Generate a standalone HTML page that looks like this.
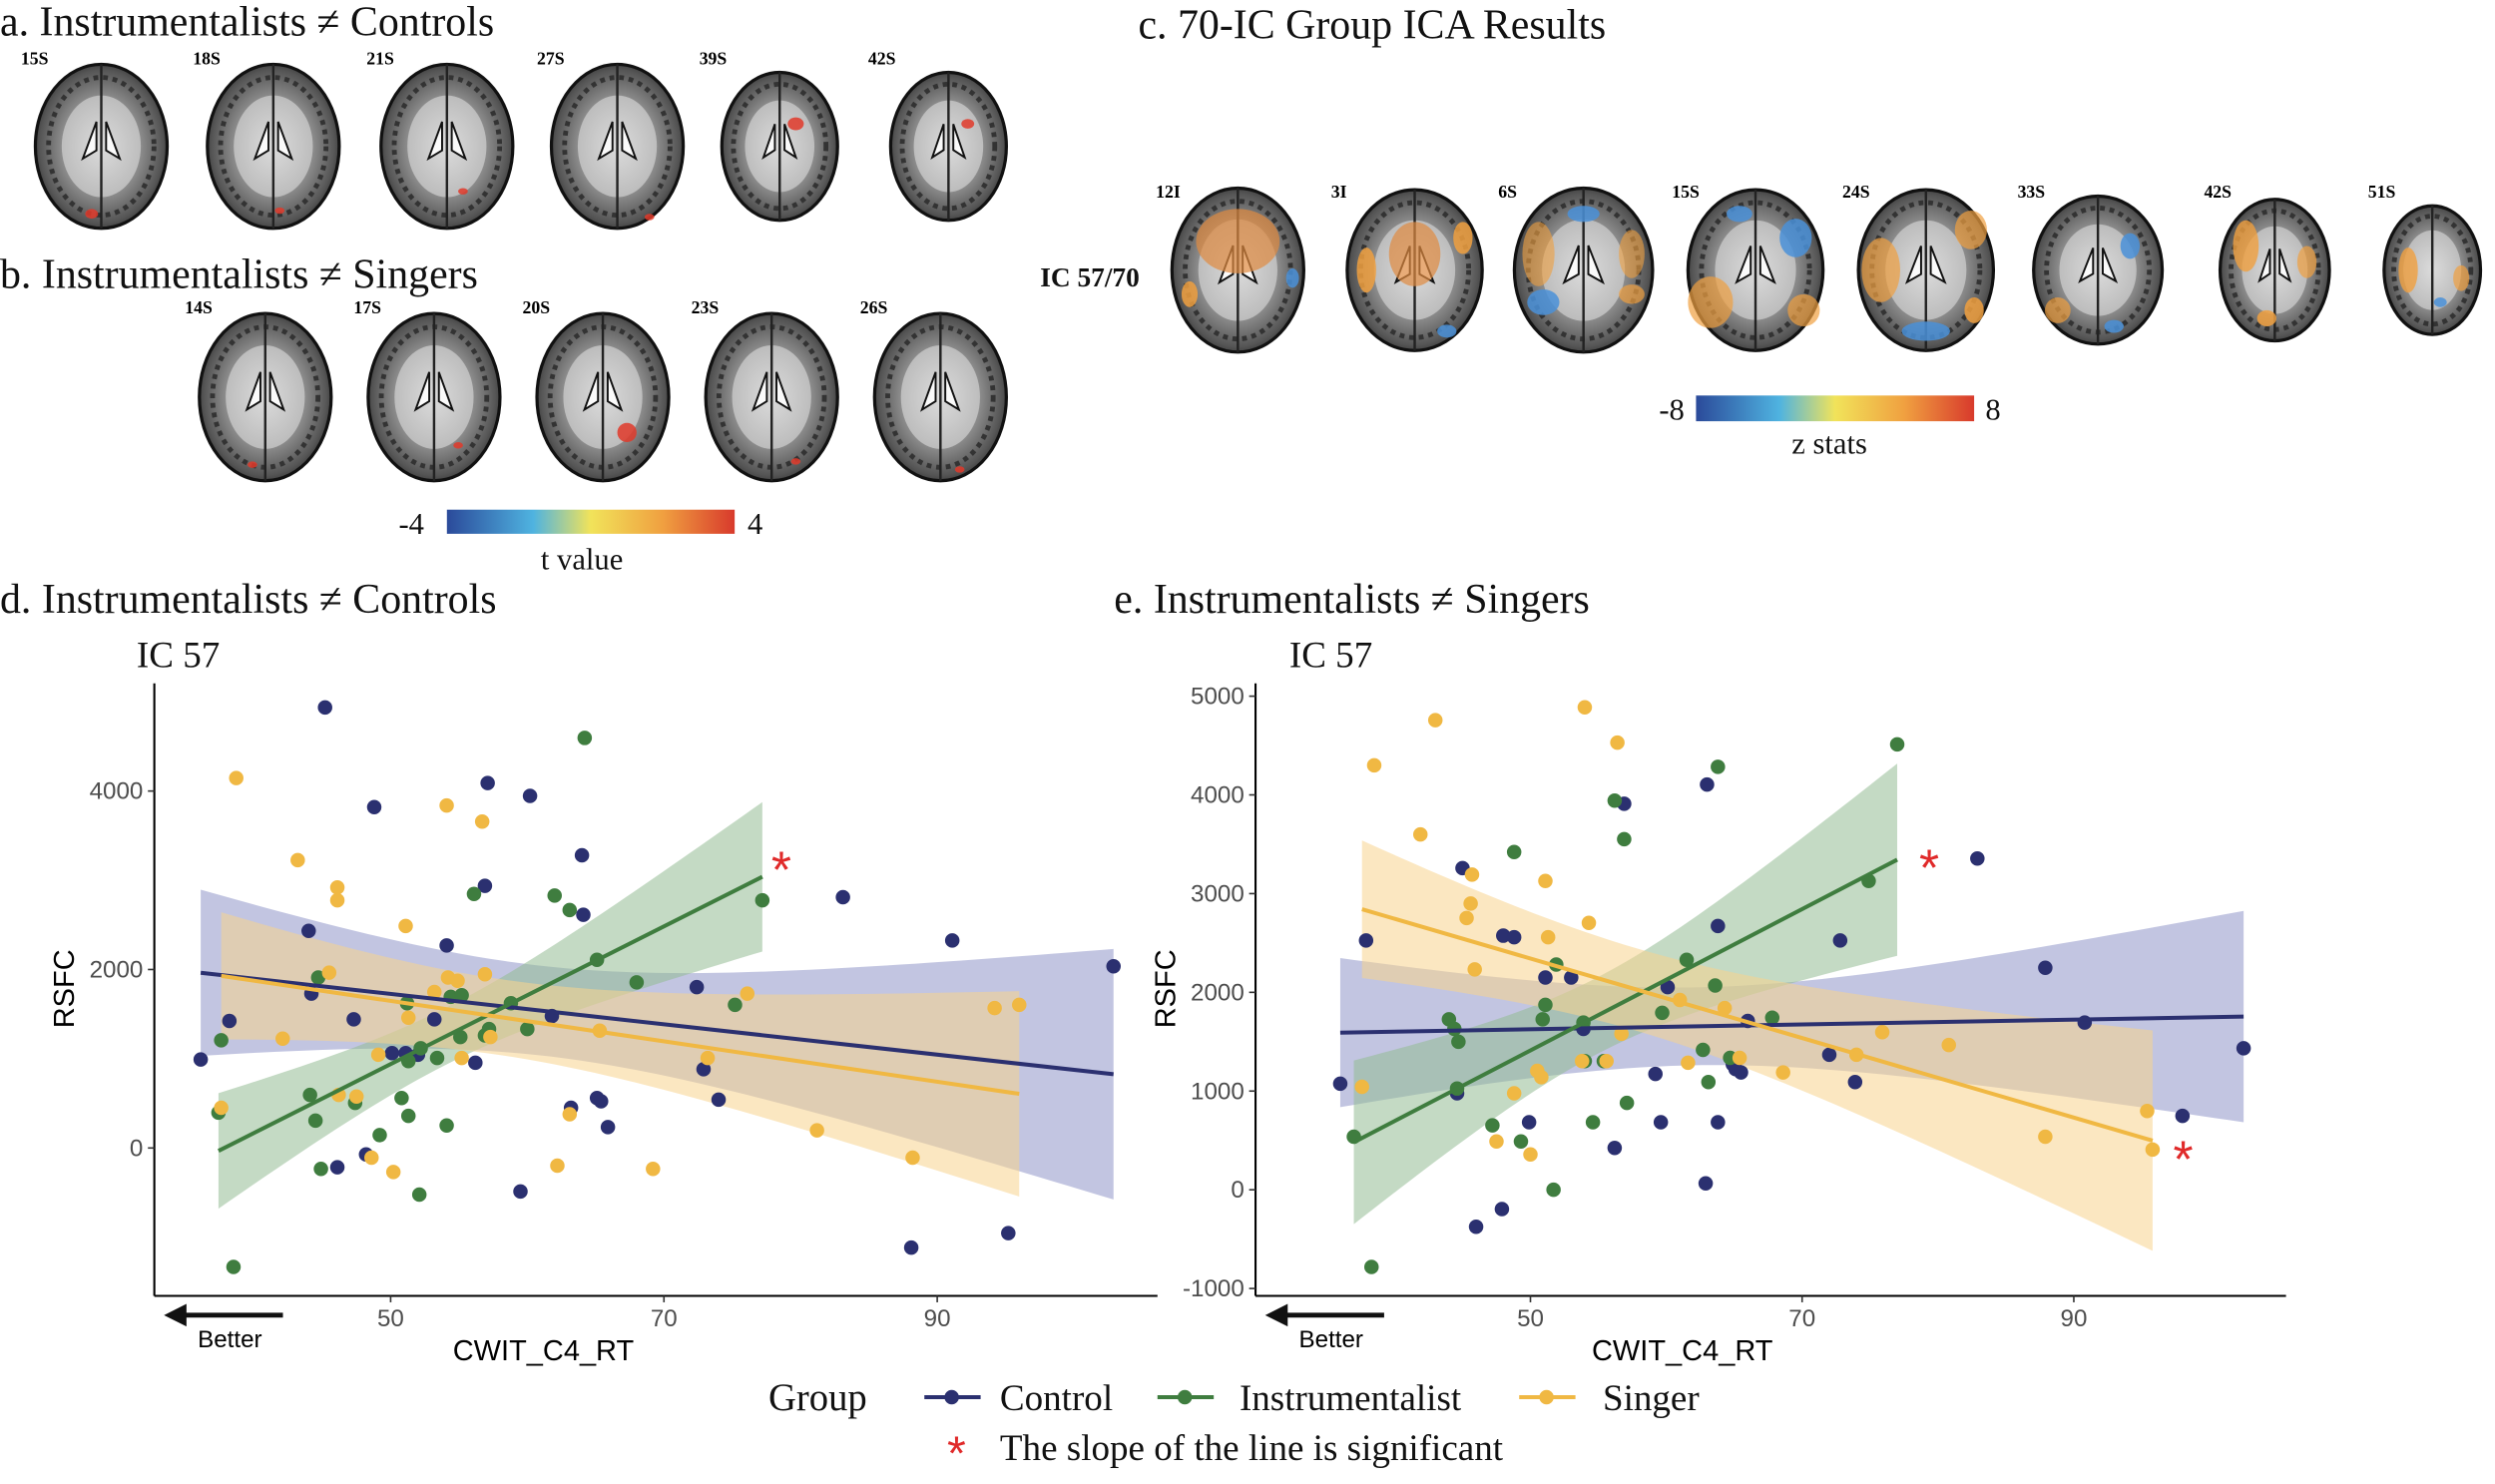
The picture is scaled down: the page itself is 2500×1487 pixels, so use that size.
<!DOCTYPE html>
<html><head><meta charset="utf-8"><style>
html,body{margin:0;padding:0;background:#fff;}
svg{display:block;}
.t{font-family:"Liberation Serif",serif;fill:#111;}
.s{font-family:"Liberation Sans",sans-serif;}
</style></head><body>
<svg id="fig" width="2500" height="1487" viewBox="0 0 1552 923" preserveAspectRatio="none" xmlns="http://www.w3.org/2000/svg">
<defs>
<radialGradient id="brainG" cx="50%" cy="50%" r="55%"><stop offset="0" stop-color="#cfcfcf"/><stop offset="0.55" stop-color="#8c8c8c"/><stop offset="0.85" stop-color="#555"/><stop offset="1" stop-color="#2a2a2a"/></radialGradient>
<linearGradient id="cbar" x1="0" x2="1" y1="0" y2="0"><stop offset="0" stop-color="#2b4a9a"/><stop offset="0.3" stop-color="#4fb3e0"/><stop offset="0.5" stop-color="#f1e35a"/><stop offset="0.75" stop-color="#f0a040"/><stop offset="1" stop-color="#d83a2c"/></linearGradient>
</defs>
<g id="titles">
<text class="t" x="0" y="22" font-size="26">a. Instrumentalists ≠ Controls</text>
<text class="t" x="0" y="179" font-size="26">b. Instrumentalists ≠ Singers</text>
<text class="t" x="708" y="24" font-size="26">c. 70-IC Group ICA Results</text>
<text class="t" x="0" y="381" font-size="26">d. Instrumentalists ≠ Controls</text>
<text class="t" x="693" y="381" font-size="26">e. Instrumentalists ≠ Singers</text>
<text class="t" x="85" y="415" font-size="23">IC 57</text>
<text class="t" x="802" y="415" font-size="23">IC 57</text>
<text class="t" x="647" y="178" font-size="17" font-weight="bold">IC 57/70</text>
</g>
<g id="brains"></g>
<g id="colorbars">
<rect x="278" y="317" width="179" height="15" fill="url(#cbar)"/>
<text class="t" x="248" y="332" font-size="19">-4</text>
<text class="t" x="465" y="332" font-size="19">4</text>
<text class="t" x="362" y="354" font-size="19" text-anchor="middle">t value</text>
<rect x="1055" y="246" width="173" height="16" fill="url(#cbar)"/>
<text class="t" x="1032" y="261" font-size="19">-8</text>
<text class="t" x="1235" y="261" font-size="19">8</text>
<text class="t" x="1138" y="282" font-size="19" text-anchor="middle">z stats</text>
</g>
<g id="plots"></g>
<g id="legend">
<text class="t" x="478" y="877" font-size="24">Group</text>
<line x1="575" y1="869" x2="610" y2="869" stroke="#2b3070" stroke-width="2.5"/><circle cx="592" cy="869" r="4.5" fill="#2b3070"/>
<text class="t" x="622" y="877" font-size="23">Control</text>
<line x1="720" y1="869" x2="755" y2="869" stroke="#3f7d3f" stroke-width="2.5"/><circle cx="737" cy="869" r="4.5" fill="#3f7d3f"/>
<text class="t" x="771" y="877" font-size="23">Instrumentalist</text>
<line x1="945" y1="869" x2="980" y2="869" stroke="#f0b843" stroke-width="2.5"/><circle cx="962" cy="869" r="4.5" fill="#f0b843"/>
<text class="t" x="997" y="877" font-size="23">Singer</text>
<text class="s" x="595" y="914" font-size="30" fill="#e02a2a" text-anchor="middle">*</text>
<text class="t" x="622" y="908" font-size="23">The slope of the line is significant</text>
</g>
</svg>
<script>
// ---- data ----
const dCtrlX=[36.1,38.2,44.0,44.2,45.2,46.1,47.3,48.2,48.8,50.1,51.1,52.0,53.2,54.1,56.2,56.9,57.1,60.2,59.5,61.8,63.2,64.0,64.1,65.1,65.4,65.9,72.4,72.9,74.0,83.1,88.1,91.1,95.2,102.9];
const dCtrlY=[991,1424,2433,1730,4937,-216,1442,-72,3820,1063,1063,1045,1442,2270,955,2937,4090,3946,-487,1478,450,3280,2613,559,523,234,1802,883,541,2811,-1117,2325,-955,2036];
const dInstX=[37.4,37.6,38.5,44.1,44.5,44.7,44.9,47.4,49.2,50.8,51.2,51.3,51.3,52.1,52.2,53.4,54.1,54.4,55.1,55.2,56.1,56.9,57.2,58.8,60.0,62.0,63.1,64.2,65.1,68.0,75.2,77.2];
const dInstY=[396,1207,-1333,595,306,1910,-234,505,144,559,1622,973,360,-523,1117,1009,252,1694,1243,1712,2847,1261,1333,1622,1333,2829,2667,4595,2108,1856,1604,2775];
const dSingX=[37.6,38.7,42.1,43.2,45.5,46.1,46.1,46.2,47.5,48.6,49.1,50.2,51.1,51.3,53.2,54.1,54.2,54.9,55.2,56.7,56.9,57.3,62.2,63.1,65.3,69.2,73.2,76.1,81.2,88.2,94.2,96.0];
const dSingY=[450,4145,1225,3226,1964,2919,2775,595,577,-108,1045,-270,2487,1460,1748,3838,1910,1874,1009,3658,1946,1243,-198,378,1315,-234,1009,1730,198,-108,1568,1604];
const eCtrlX=[36.0,37.9,44.6,45.0,46.0,47.9,48.0,48.8,49.9,51.1,53.0,53.9,56.2,56.9,59.2,59.6,60.1,62.9,63.0,63.8,63.8,64.9,65.1,65.5,66.0,72.0,72.8,73.9,82.9,87.9,90.8,98.0,102.5];
const eCtrlY=[1075,2525,977,3258,-375,-195,2574,2558,684,2150,2150,1629,424,3910,1173,684,2053,65,4105,2672,684,1271,1222,1189,1710,1368,2525,1091,3356,2248,1694,749,1434];
const eInstX=[37.0,38.3,44.0,44.4,44.6,44.7,47.2,48.8,49.3,50.9,51.1,51.7,51.9,53.9,54.0,54.6,55.4,56.2,56.9,57.1,59.7,61.5,62.7,63.1,63.6,63.8,64.7,67.8,74.9,77.0];
const eInstY=[538,-782,1727,1629,1026,1499,652,3421,489,1727,1873,0,2281,1694,1303,684,1303,3942,3551,880,1792,2330,1417,1091,2069,4284,1336,1743,3128,4512];
const eSingX=[37.6,38.5,41.9,43.0,45.3,45.6,45.7,45.9,47.5,48.8,50.0,50.5,50.8,51.1,51.3,53.8,54.0,54.3,55.6,56.4,56.7,61.0,61.6,64.3,65.4,68.6,74.0,75.9,80.8,87.9,95.4,95.8];
const eSingY=[1043,4300,3600,4757,2753,2900,3193,2232,489,977,358,1205,1140,3128,2558,1303,4887,2704,1303,4529,1580,1922,1287,1841,1336,1189,1368,1596,1466,538,798,407];
const xTicks=[50,70,90];
const dYTicks=[0,2000,4000];
const eYTicks=[-1000,0,1000,2000,3000,4000,5000];

const NS="http://www.w3.org/2000/svg";
function mk(tag,attrs,parent){const e=document.createElementNS(NS,tag);for(const k in attrs)e.setAttribute(k,attrs[k]);parent.appendChild(e);return e;}

// ---- brains ----
const bg=document.getElementById('brains');
function brain(cx,cy,rx,ry,label,blobs,name,lx,ly){
  const g=mk('g',{},bg);
  
  
  mk('ellipse',{cx:cx,cy:cy,rx:rx,ry:ry,fill:'url(#brainG)',stroke:'#111','stroke-width':2},g);
  mk('ellipse',{cx:cx,cy:cy,rx:rx*0.6,ry:ry*0.62,fill:'#e6e6e6',opacity:0.55},g);
  mk('ellipse',{cx:cx,cy:cy,rx:rx*0.8,ry:ry*0.84,fill:'none',stroke:'#333','stroke-width':3,'stroke-dasharray':'3 3'},g);
  mk('line',{x1:cx,y1:cy-ry,x2:cx,y2:cy+ry,stroke:'#222','stroke-width':1.5},g);
  if(rx>30){
    mk('path',{d:`M${cx-3} ${cy-ry*0.3} L${cx-rx*0.28} ${cy+ry*0.15} L${cx-3} ${cy+ry*0.05} Z M${cx+3} ${cy-ry*0.3} L${cx+rx*0.28} ${cy+ry*0.15} L${cx+3} ${cy+ry*0.05} Z`,fill:'#fafafa',stroke:'#111','stroke-width':1.2},g);
  }
  for(const b of blobs) mk('ellipse',{cx:cx+b[0],cy:cy+b[1],rx:b[2],ry:b[3]||b[2],fill:b[4],opacity:b[5]||0.85},g);
  const t=mk('text',{x:lx,y:ly,'font-size':11,'font-weight':'bold','font-family':'Liberation Serif, serif'},g);
  t.textContent=label;
}
const R='#e03a2a';
const aC=[[63,'15S',[[-6,42,4,3,R]]],[170,'18S',[[4,40,3,2,R]]],[278,'21S',[[10,28,3,2,R]]],[384,'27S',[[20,44,3,2,R]]],[485,'39S',[[10,-14,5,4,R]]],[590,'42S',[[12,-14,4,3,R]]]];
aC.forEach((b,i)=>brain(b[0],91,i>3?36:41,i>3?46:51,b[1],b[2],'brain-a-'+b[1],b[0]-50,40));
const bC=[[165,'14S',[[-8,42,3,2,R]]],[270,'17S',[[15,30,3,2,R]]],[375,'20S',[[15,22,6,6,R]]],[480,'23S',[[15,40,3,2,R]]],[585,'26S',[[12,45,3,2,R]]]];
bC.forEach(b=>brain(b[0],247,41,52,b[1],b[2],'brain-b-'+b[1],b[0]-50,195));
const O='#f0a040',B='#4a90d8';
const cC=[[770,'12I',41,51,[[0,-18,26,20,'#e08a40',0.7],[-30,15,5,8,O],[34,5,4,6,B]]],
[880,'3I',42,50,[[0,-10,16,20,'#e08a40',0.7],[-30,0,6,14,O],[30,-20,6,10,O],[20,38,6,4,B]]],
[985,'6S',43,51,[[-28,-10,10,20,O,0.6],[30,-10,8,15,O,0.6],[-25,20,10,8,B],[30,15,8,6,O,0.7],[0,-35,10,5,B]]],
[1092,'15S',42,50,[[-28,20,14,16,O,0.7],[25,-20,10,12,B],[30,25,10,10,O,0.7],[-10,-35,8,5,B]]],
[1198,'24S',42,50,[[-28,0,12,20,O,0.7],[28,-25,10,12,O,0.7],[0,38,15,6,B],[30,25,6,8,O]]],
[1305,'33S',40,46,[[20,-15,6,8,B],[-25,25,8,8,O,0.7],[10,35,6,4,B]]],
[1415,'42S',34,44,[[-18,-15,8,16,O,0.8],[20,-5,6,10,O,0.7],[-5,30,6,5,O]]],
[1513,'51S',30,40,[[-15,0,6,14,O,0.8],[18,5,5,8,O,0.7],[5,20,4,3,B]]]];
cC.forEach(b=>brain(b[0],168,b[2],b[3],b[1],b[4],'brain-c-'+b[1],b[0]-b[2]-10,123));

// ---- plots ----
const pg=document.getElementById('plots');
function fit(xs,ys){
  const n=xs.length,xm=xs.reduce((a,b)=>a+b)/n,ym=ys.reduce((a,b)=>a+b)/n;
  let sxx=0,sxy=0;for(let i=0;i<n;i++){sxx+=(xs[i]-xm)**2;sxy+=(xs[i]-xm)*(ys[i]-ym);}
  const b=sxy/sxx,a=ym-b*xm;let ss=0;for(let i=0;i<n;i++)ss+=(ys[i]-a-b*xs[i])**2;
  const s=Math.sqrt(ss/(n-2));
  return {a,b,s,n,xm,sxx,xmin:Math.min(...xs),xmax:Math.max(...xs)};
}
function plot(cfg){
  const g=mk('g',{},pg);
  
  
  const X=v=>cfg.x0+(v-50)*cfg.kx, Y=v=>cfg.y0-v*cfg.ky;
  cfg.series.forEach(sr=>{
    const f=fit(sr.x,sr.y);const up=[],lo=[];
    for(let i=0;i<=60;i++){const x=f.xmin+(f.xmax-f.xmin)*i/60;const yh=f.a+f.b*x;const se=2.02*f.s*Math.sqrt(1/f.n+(x-f.xm)**2/f.sxx);up.push(X(x)+','+Y(yh+se));lo.unshift(X(x)+','+Y(yh-se));}
    const band=mk('polygon',{points:up.concat(lo).join(' '),fill:sr.band,opacity:0.55},g);
    
    
    sr.f=f;
  });
  cfg.series.forEach(sr=>{
    sr.x.forEach((x,i)=>{const c=mk('circle',{cx:X(x),cy:Y(sr.y[i]),r:4.5,fill:sr.col},g);
      
      });
  });
  cfg.series.forEach(sr=>{const f=sr.f;
    const l=mk('line',{x1:X(f.xmin),y1:Y(f.a+f.b*f.xmin),x2:X(f.xmax),y2:Y(f.a+f.b*f.xmax),stroke:sr.col,'stroke-width':2.5},g);
    
    });
  mk('line',{x1:cfg.ax,y1:425,x2:cfg.ax,y2:806,stroke:'#000','stroke-width':1.3},g);
  mk('line',{x1:cfg.ax,y1:806,x2:cfg.right,y2:806,stroke:'#000','stroke-width':1.3},g);
  xTicks.forEach(t=>{mk('line',{x1:X(t),y1:806,x2:X(t),y2:810,stroke:'#333'},g);
    const tx=mk('text',{x:X(t),y:825,'font-size':15,fill:'#4d4d4d','text-anchor':'middle',class:'s'},g);tx.textContent=t;
    
    });
  cfg.yt.forEach(t=>{mk('line',{x1:cfg.ax-4,y1:Y(t),x2:cfg.ax,y2:Y(t),stroke:'#333'},g);
    const tx=mk('text',{x:cfg.ax-7,y:Y(t)+5,'font-size':15,fill:'#4d4d4d','text-anchor':'end',class:'s'},g);tx.textContent=t;
    
    });
  const yl=mk('text',{x:0,y:0,'font-size':18,'text-anchor':'middle',class:'s',transform:`translate(${cfg.ax-50},${615}) rotate(-90)`},g);yl.textContent='RSFC';
  
  
  const xl=mk('text',{x:cfg.x0+(60-50)*cfg.kx+10,y:846,'font-size':18,'text-anchor':'middle',class:'s'},g);xl.textContent='CWIT_C4_RT';
  
  
  mk('line',{x1:cfg.ax+16,y1:818,x2:cfg.ax+80,y2:818,stroke:'#111','stroke-width':3},g);
  mk('path',{d:`M${cfg.ax+6} 818 L${cfg.ax+20} 811 L${cfg.ax+20} 825 Z`,fill:'#111'},g);
  const bt=mk('text',{x:cfg.ax+27,y:838,'font-size':15,class:'s'},g);bt.textContent='Better';
  
  
  cfg.stars.forEach(s=>{const st=mk('text',{x:s[0],y:s[1]+14,'font-size':32,fill:'#e02a2a','text-anchor':'middle',class:'s'},g);st.textContent='*';
    
    });
}
plot({name:'scatter-plot-d',x0:243,kx:8.5,y0:714,ky:0.0555,ax:96,right:720,yt:dYTicks,stars:[[486,538]],
  series:[{key:'control',x:dCtrlX,y:dCtrlY,col:'#2b3070',band:'#8f95c8'},{key:'instrumentalist',x:dInstX,y:dInstY,col:'#3f7d3f',band:'#93bb93'},{key:'singer',x:dSingX,y:dSingY,col:'#f0b843',band:'#f7d48e'}]});
plot({name:'scatter-plot-e',x0:952,kx:8.45,y0:740,ky:0.0614,ax:781,right:1422,yt:eYTicks,stars:[[1200,537],[1358,718]],
  series:[{key:'control',x:eCtrlX,y:eCtrlY,col:'#2b3070',band:'#8f95c8'},{key:'instrumentalist',x:eInstX,y:eInstY,col:'#3f7d3f',band:'#93bb93'},{key:'singer',x:eSingX,y:eSingY,col:'#f0b843',band:'#f7d48e'}]});
</script>
</body></html>
